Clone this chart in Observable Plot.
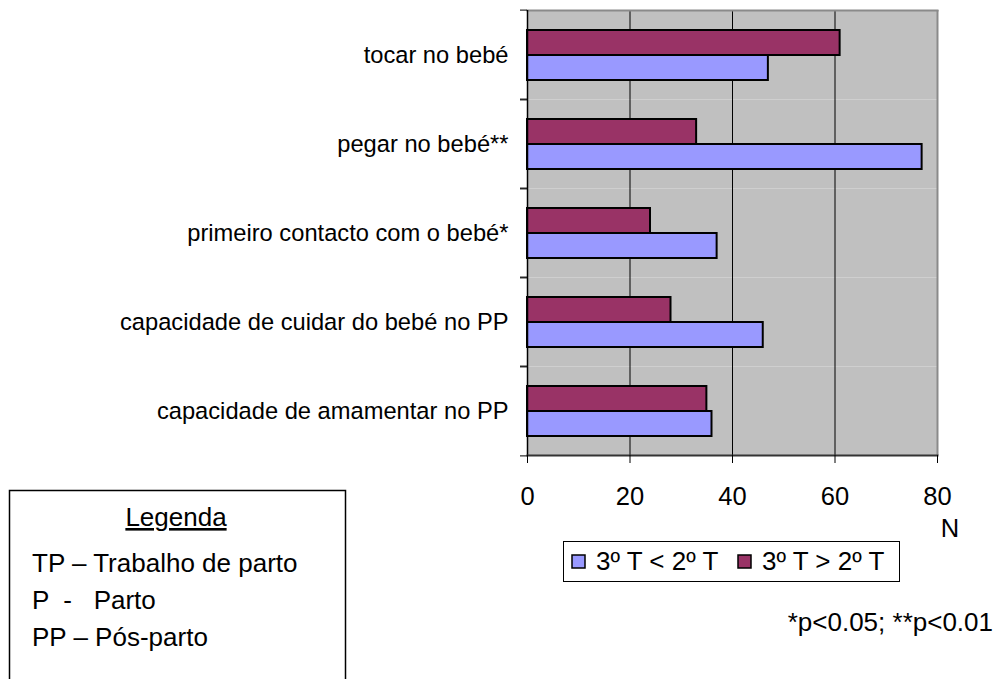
<!DOCTYPE html>
<html><head><meta charset="utf-8">
<script src="https://cdn.jsdelivr.net/npm/d3@7"></script>
<script src="https://cdn.jsdelivr.net/npm/@observablehq/plot@0.6"></script>
<style>
body{margin:0;background:#fff;font-family:"Liberation Sans",Arial,sans-serif;}
#wrap{position:relative;width:1001px;height:679px;overflow:hidden;background:#fff;}
#wrap svg{position:absolute;left:0;top:0;}
</style></head><body><div id="wrap"></div>
<script>
const categories = ["tocar no bebé","pegar no bebé**","primeiro contacto com o bebé*","capacidade de cuidar do bebé no PP","capacidade de amamentar no PP"];
const seriesNames = ["3º T < 2º T","3º T > 2º T"];
const lessValues = [47,77,37,46,36];
const greaterValues = [61,33,24,28,35];
const xTicks = [0,20,40,60,80];
const seriesColors = ["#9999ff","#993366"];
const axisTitle = "N";
const footnote = "*p<0.05; **p<0.01";
const glossaryTitle = "Legenda";
const glossary = ["TP – Trabalho de parto","P  -   Parto","PP – Pós-parto"];

const data = [];
categories.forEach((c,i)=>{
  data.push({cat:c, series:seriesNames[1], value:greaterValues[i]});
  data.push({cat:c, series:seriesNames[0], value:lessValues[i]});
});

const font = '"Liberation Sans", Arial, sans-serif';
const step = (457 - 8) / categories.length;

const chart = Plot.plot({
  width: 1001, height: 679,
  marginLeft: 527, marginRight: 64, marginTop: 8, marginBottom: 222,
  style: {fontFamily: font, fontSize: "24px", background: "transparent", color: "#000", overflow: "visible"},
  x: {domain: [0, 80], ticks: xTicks},
  y: {domain: [seriesNames[1], seriesNames[0]], paddingInner: 0, paddingOuter: 0.75, axis: null},
  fy: {domain: categories, padding: 0},
  color: {domain: seriesNames, range: seriesColors},
  marks: [
    Plot.frame({fill: "#c0c0c0"}),
    Plot.ruleX(xTicks.slice(1, -1), {stroke: "#000", strokeWidth: 1}),
    Plot.ruleX([80], {stroke: "#8a8a8a", strokeWidth: 2}),
    Plot.frame({anchor: "top", facetAnchor: "top", stroke: "#8a8a8a", strokeWidth: 2}),
    Plot.barX(data, {fy: "cat", y: "series", x: "value", fill: "series", stroke: "#000", strokeWidth: 2}),
    Plot.ruleX([0], {stroke: "#000", strokeWidth: 1.5}),
    Plot.frame({anchor: "bottom", facetAnchor: "bottom", stroke: "#333", strokeWidth: 2}),
    Plot.axisX({ticks: xTicks, tickSize: 8, tickPadding: 23, fontSize: 25.5, label: null, stroke: "#000"}),
    Plot.axisFy({anchor: "left", tickSize: 0, tickPadding: 19, fontSize: 23.7, label: null}),
    Plot.axisFy({anchor: "left", tickSize: 7, text: null, dy: -step / 2, label: null}),
    Plot.axisFy({anchor: "left", tickSize: 7, text: null, dy: step / 2, label: null})
  ]
});
const wrap = document.getElementById("wrap");
wrap.appendChild(chart);

// overlay texts and legends
const svg = d3.select(wrap).append("svg")
  .attr("width", 1001).attr("height", 679)
  .style("font-family", font).style("font-size", "26px");

svg.append("text").attr("x", 950).attr("y", 537).attr("text-anchor", "middle").style("font-size", "25.5px").text(axisTitle);

// series legend
svg.append("rect").attr("x", 563.5).attr("y", 541.5).attr("width", 336).attr("height", 40)
  .attr("fill", "#fff").attr("stroke", "#000").attr("stroke-width", 1);
const legX = [572, 738];
[0, 1].forEach((k, j) => {
  svg.append("rect").attr("x", legX[j]).attr("y", 555).attr("width", 13).attr("height", 13)
    .attr("fill", seriesColors[k]).attr("stroke", "#000").attr("stroke-width", 1.5);
  svg.append("text").attr("x", legX[j] + 24).attr("y", 570).text(seriesNames[k]);
});

svg.append("text").attr("x", 993).attr("y", 631).attr("text-anchor", "end").text(footnote);

// glossary box
svg.append("rect").attr("x", 9.5).attr("y", 490.5).attr("width", 336).attr("height", 220)
  .attr("fill", "none").attr("stroke", "#000").attr("stroke-width", 1.5);
svg.append("text").attr("x", 176).attr("y", 526).attr("text-anchor", "middle")
  .style("text-decoration", "underline").text(glossaryTitle);
glossary.forEach((t, i) => {
  svg.append("text").attr("x", 32).attr("y", 572 + i * 37).style("white-space", "pre").text(t);
});
</script></body></html>
